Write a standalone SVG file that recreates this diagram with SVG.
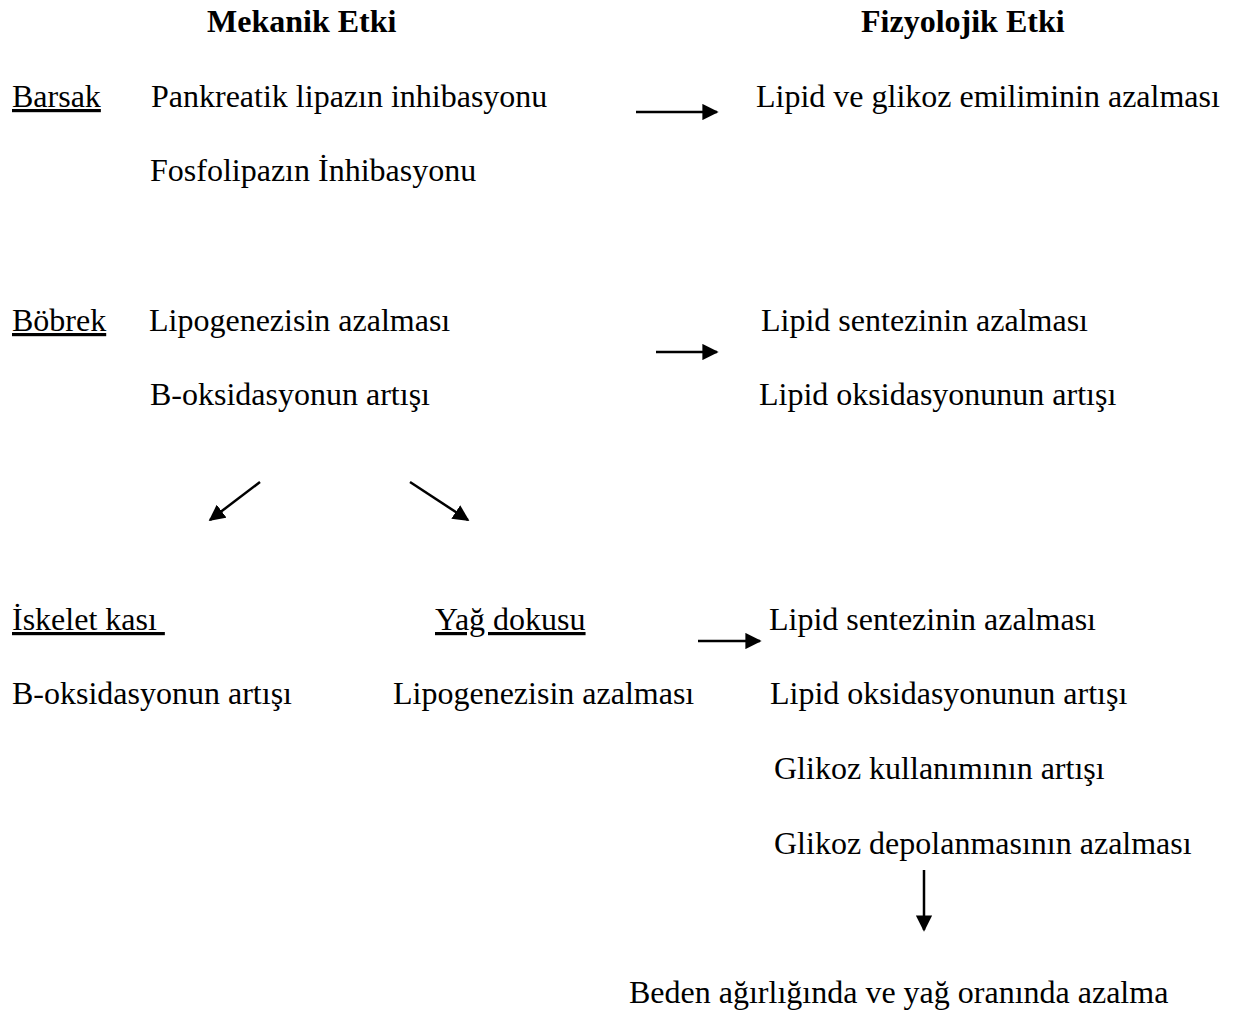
<svg xmlns="http://www.w3.org/2000/svg" width="1235" height="1012" viewBox="0 0 1235 1012">
<defs>
<style>
text{font-family:"Liberation Serif","Times New Roman",serif;font-size:32px;fill:#000}
.b{font-weight:bold}
.u{text-decoration:underline}
.c{stroke:#000;stroke-width:2.5;fill:none;marker-end:url(#ah)}
</style>
<marker id="ah" viewBox="0 0 10 10" refX="9" refY="5" markerWidth="6.5" markerHeight="6.5" markerUnits="strokeWidth" orient="auto">
<path d="M0,0 L10,5 L0,10 z" fill="#000"/>
</marker>
</defs>
<rect width="1235" height="1012" fill="#fff"/>
<g id="headers">
<text class="b" x="207" y="32">Mekanik Etki</text>
<text class="b" x="861" y="32">Fizyolojik Etki</text>
</g>
<g id="barsak">
<text class="u" x="12" y="107">Barsak</text>
<text x="151" y="107">Pankreatik lipazın inhibasyonu</text>
<text x="150" y="181">Fosfolipazın İnhibasyonu</text>
</g>
<g id="barsak-effect">
<text x="756" y="107">Lipid ve glikoz emiliminin azalması</text>
</g>
<g id="bobrek">
<text class="u" x="12" y="331">Böbrek</text>
<text x="149" y="331">Lipogenezisin azalması</text>
<text x="150" y="405">B-oksidasyonun artışı</text>
</g>
<g id="bobrek-effect">
<text x="761" y="331">Lipid sentezinin azalması</text>
<text x="759" y="405">Lipid oksidasyonunun artışı</text>
</g>
<g id="iskelet">
<text class="u" x="12" y="630" xml:space="preserve">İskelet kası </text>
<text x="12" y="704">B-oksidasyonun artışı</text>
</g>
<g id="yag">
<text class="u" x="435" y="630">Yağ dokusu</text>
<text x="393" y="704">Lipogenezisin azalması</text>
</g>
<g id="yag-effect">
<text x="769" y="630">Lipid sentezinin azalması</text>
<text x="770" y="704">Lipid oksidasyonunun artışı</text>
<text x="774" y="779">Glikoz kullanımının artışı</text>
<text x="774" y="854">Glikoz depolanmasının azalması</text>
</g>
<g id="result">
<text x="629" y="1003">Beden ağırlığında ve yağ oranında azalma</text>
</g>
<g id="connectors">
<line class="c" x1="636" y1="112" x2="717" y2="112"/>
<line class="c" x1="656" y1="352" x2="717" y2="352"/>
<line class="c" x1="260" y1="482" x2="210" y2="520"/>
<line class="c" x1="410" y1="482" x2="468" y2="520"/>
<line class="c" x1="698" y1="641" x2="760" y2="641"/>
<line class="c" x1="924" y1="870" x2="924" y2="930"/>
</g>
</svg>
